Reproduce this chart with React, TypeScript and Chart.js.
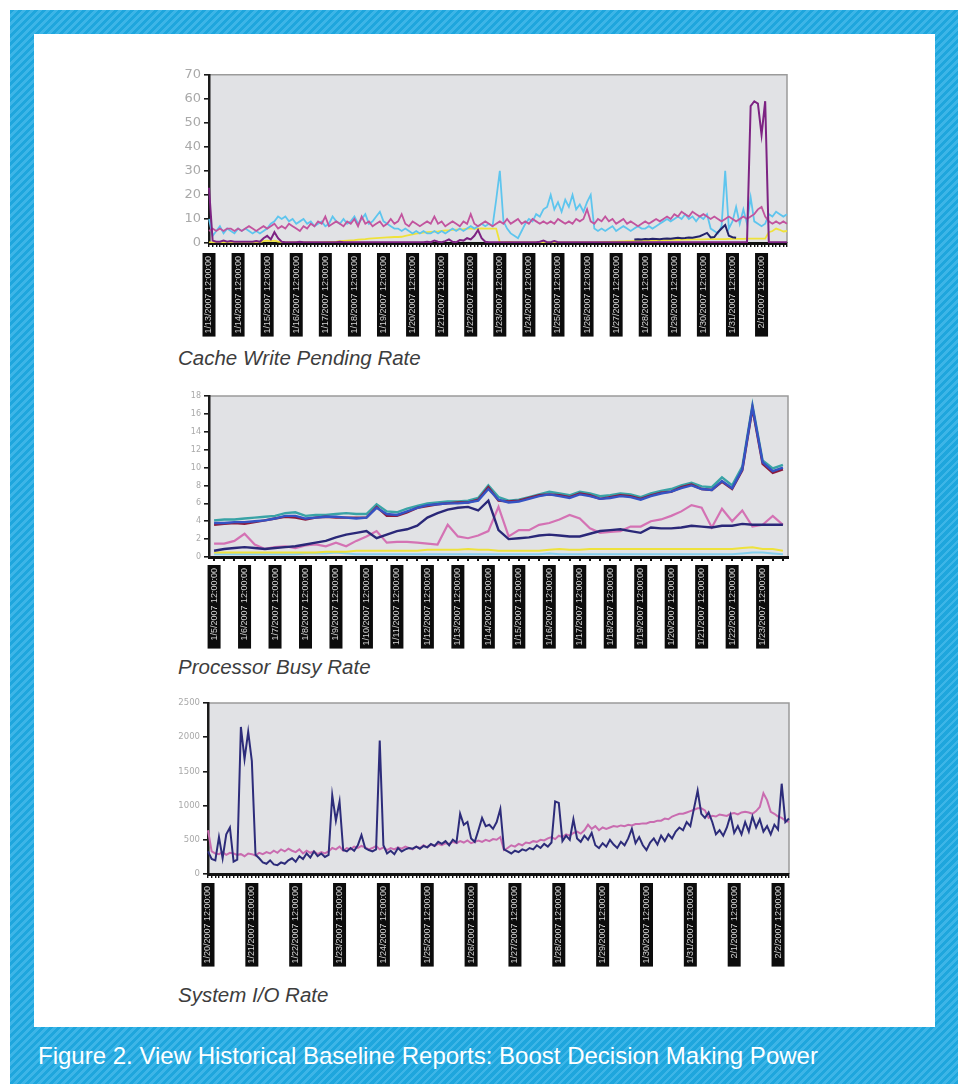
import React, { useEffect, useRef } from "react";
import { Chart, registerables } from "chart.js";

Chart.register(...registerables);

const SANS = '"Liberation Sans", Arial, Helvetica, sans-serif';
const NUM_FONT = '"DejaVu Sans", "Liberation Sans", sans-serif';
const PLOT_BG = "#e1e2e5";

// ---------------- Chart 1: Cache Write Pending Rate ----------------
const CACHE_TICK_LABELS = [
  "1/13/2007 12:00:00", "1/14/2007 12:00:00", "1/15/2007 12:00:00", "1/16/2007 12:00:00",
  "1/17/2007 12:00:00", "1/18/2007 12:00:00", "1/19/2007 12:00:00", "1/20/2007 12:00:00",
  "1/21/2007 12:00:00", "1/22/2007 12:00:00", "1/23/2007 12:00:00", "1/24/2007 12:00:00",
  "1/25/2007 12:00:00", "1/26/2007 12:00:00", "1/27/2007 12:00:00", "1/28/2007 12:00:00",
  "1/29/2007 12:00:00", "1/30/2007 12:00:00", "1/31/2007 12:00:00", "2/1/2007 12:00:00",
];

const CACHE_CYAN = [
  10, 3, 5, 7, 4, 6, 5, 4, 6, 5,
  6, 5, 4, 5, 4, 5, 6, 8, 9, 11,
  10, 11, 9, 10, 8, 9, 10, 8, 9, 7,
  8, 9, 7, 8, 11, 9, 8, 10, 8, 9,
  11, 8, 10, 12, 8, 9, 11, 13, 9, 8,
  7, 6, 6, 5, 6, 5, 4, 5, 4, 5,
  4, 4, 5, 4, 5, 4, 5, 6, 5, 6,
  5, 6, 7, 6, 7, 8, 7, 8, 7, 18,
  30, 9, 6, 4, 3, 2, 5, 8, 10, 9,
  12, 11, 14, 15, 20, 14, 17, 13, 18, 15,
  20, 14, 16, 13, 17, 20, 6, 5, 6, 5,
  6, 7, 5, 6, 7, 6, 5, 6, 7, 6,
  6, 7, 6, 7, 8, 9, 10, 9, 10, 11,
  10, 12, 10, 11, 9, 11, 10, 12, 6, 5,
  4, 7, 30, 6, 9, 15, 8, 14, 8, 19,
  9, 8, 7, 8, 12, 11, 13, 12, 11, 12,
];
const CACHE_PINK = [
  5, 6, 5, 6, 5, 6, 6, 5, 6, 5,
  6, 7, 6, 5, 6, 7, 6, 7, 8, 6,
  7, 6, 8, 7, 6, 5, 7, 6, 8, 7,
  9, 8, 11, 7, 8, 9, 8, 7, 9, 8,
  10, 7, 11, 8, 9, 7, 8, 9, 7, 8,
  10, 8, 9, 12, 8, 7, 9, 8, 7, 8,
  9, 8, 11, 8, 9, 7, 8, 9, 8, 7,
  9, 8, 12, 8, 7, 8, 9, 8, 7, 8,
  9, 8, 10, 8, 9, 10, 8, 9, 8, 10,
  9, 8, 9, 8, 9, 8, 10, 9, 8, 9,
  8, 10, 9, 10, 14, 9, 8, 10, 9, 11,
  9, 10, 8, 9, 10, 8, 9, 8, 7, 8,
  9, 8, 9, 10, 9, 10, 11, 10, 12, 11,
  13, 12, 11, 13, 12, 11, 12, 11, 10, 11,
  10, 9, 10, 11, 10, 9, 10, 11, 10, 11,
  12, 14, 15, 11, 9, 8, 9, 8, 9, 8,
];
const CACHE_YELLOW = [
  0.3, 0.3, 0.3, 0.3, 0.3, 0.3, 0.3, 0.3, 0.3, 0.3,
  0.3, 0.3, 0.3, 0.3, 0.3, 0.8, 1, 0.8, 1, 0.6,
  0.4, 0.3, 0.3, 0.3, 0.3, 0.3, 0.3, 0.3, 0.3, 0.3,
  0.3, 0.3, 0.4, 0.5, 0.5, 0.6, 0.8, 0.9, 1, 1.1,
  1.2, 1.4, 1.5, 1.6, 1.8, 1.9, 2, 2.1, 2.2, 2.3,
  2.4, 2.5, 2.5, 2.6, 3, 3.3, 3.6, 3.9, 4.1, 4.3,
  4.5, 4.6, 4.7, 4.8, 5, 5.2, 5.3, 5.5, 5.6, 5.7,
  5.8, 6, 6, 5.9, 6, 6.1, 6, 6, 6, 6,
  0.3, 0.3, 0.5, 0.5, 0.3, 0.3, 0.3, 0.3, 0.3, 0.3,
  0.3, 0.3, 0.3, 0.4, 0.3, 0.3, 0.3, 0.3, 0.3, 0.3,
  0.3, 0.3, 0.3, 0.3, 0.3, 0.3, 0.3, 0.4, 0.4, 0.5,
  0.5, 0.6, 0.6, 0.7, 0.7, 0.8, 0.8, 0.9, 0.9, 1,
  1, 1, 1.1, 1.1, 1.2, 1.2, 1.2, 1.3, 1.3, 1.3,
  1.4, 1.4, 1.4, 1.5, 1.5, 1.5, 1.5, 1.6, 1.6, 1.6,
  1.6, 1.6, 1.6, 1.7, 1.7, 1.7, 1.7, 1.7, 1.8, 1.8,
  1.8, 1.8, 1.8, 1.8, 4.5, 5, 6, 5.5, 4.8, 5,
];
const CACHE_PURPLE = [
  23, 1, 0.5, 0.5, 1, 0.5, 0.8, 0.5, 0.5, 0.5,
  0.5, 0.5, 0.5, 0.8, 0.5, 2, 3, 1.5, 4.5, 2,
  0.5, 0.3, 0.3, 0.3, 0.3, 0.5, 0.3, 0.3, 0.3, 0.3,
  0.3, 0.3, 0.3, 0.3, 0.3, 0.3, 0.5, 0.3, 0.3, 0.3,
  0.3, 0.3, 0.3, 0.3, 0.3, 0.3, 0.3, 0.3, 0.3, 0.3,
  0.3, 0.3, 0.3, 0.3, 0.3, 0.3, 0.3, 0.3, 0.3, 0.3,
  0.5, 0.3, 1, 0.5, 0.3, 0.8, 1.5, 0.5, 0.3, 1.2,
  1, 2, 1.5, 3, 5.4, 2, 0.5, 0.3, 0.3, 0.3,
  0.3, 0.3, 0.3, 0.3, 0.3, 0.3, 0.3, 0.3, 0.3, 0.3,
  0.3, 0.5, 1, 0.3, 0.3, 0.8, 0.3, 0.3, 0.3, 0.3,
  0.3, 0.3, 0.3, 0.3, 0.3, 0.3, 0.3, 0.3, 0.3, 0.3,
  0.3, 0.3, 0.3, 0.3, 0.3, 0.3, 0.3, 0.3, 0.3, 0.3,
  0.3, 0.3, 0.3, 0.3, 0.3, 0.3, 0.3, 0.3, 0.3, 0.3,
  0.3, 0.3, 0.3, 0.3, 0.3, 0.3, 0.3, 0.3, 0.3, 0.3,
  0.3, 0.3, 0.3, 0.3, 0.3, 0.3, 0.3, 0.3, 0.3, 57,
  59, 58, 45, 59, 0.3, 0.3, 0.3, 0.3, 0.3, 0.3,
];
// navy series only exists over a short stretch (index 117 .. 145)
const CACHE_NAVY_START = 117;
const CACHE_NAVY = [
  1.5, 1.6, 1.5, 1.7, 1.6, 1.8, 1.7, 1.6, 1.8, 1.9,
  1.8, 2.0, 2.2, 2.0, 2.1, 2.3, 2.2, 2.5, 2.8, 3.5,
  4.2, 2.3, 2.5, 4.5, 6.0, 7.5, 3.0, 2.4, 2.2,
];

// ---------------- Chart 2: Processor Busy Rate ----------------
const CPU_TICK_LABELS = [
  "1/5/2007 12:00:00", "1/6/2007 12:00:00", "1/7/2007 12:00:00", "1/8/2007 12:00:00",
  "1/9/2007 12:00:00", "1/10/2007 12:00:00", "1/11/2007 12:00:00", "1/12/2007 12:00:00",
  "1/13/2007 12:00:00", "1/14/2007 12:00:00", "1/15/2007 12:00:00", "1/16/2007 12:00:00",
  "1/17/2007 12:00:00", "1/18/2007 12:00:00", "1/19/2007 12:00:00", "1/20/2007 12:00:00",
  "1/21/2007 12:00:00", "1/22/2007 12:00:00", "1/23/2007 12:00:00",
];
const CPU_BLUE = [
  3.8, 3.8, 3.9, 3.9, 4.0, 4.1, 4.3, 4.6, 4.6, 4.3,
  4.4, 4.5, 4.5, 4.4, 4.3, 4.4, 5.5, 4.8, 4.7, 5.1,
  5.5, 5.8, 5.9, 6.0, 6.0, 6.1, 6.3, 7.6, 6.4, 6.1,
  6.2, 6.5, 6.8, 7.0, 6.8, 6.6, 7.0, 6.8, 6.5, 6.6,
  6.8, 6.7, 6.4, 6.8, 7.1, 7.3, 7.7, 8.0, 7.6, 7.5,
  8.5, 7.7, 9.8, 16.8, 10.6, 9.6, 10.0,
];
const CPU_TEAL = [
  4.1, 4.2, 4.2, 4.3, 4.4, 4.5, 4.6, 4.9, 5.0, 4.6,
  4.7, 4.7, 4.8, 4.9, 4.8, 4.8, 5.9, 5.1, 5.0, 5.4,
  5.7, 6.0, 6.1, 6.2, 6.2, 6.3, 6.6, 8.0, 6.7, 6.3,
  6.4, 6.7, 7.0, 7.3, 7.1, 6.9, 7.3, 7.1, 6.8, 6.9,
  7.1, 7.0, 6.7, 7.1, 7.4, 7.6, 8.0, 8.3, 7.9, 7.8,
  8.9, 8.0, 10.1, 17.0, 10.8, 9.9, 10.3,
];
const CPU_MAROON = [
  3.6, 3.7, 3.8, 3.7, 3.9, 4.1, 4.3, 4.5, 4.4, 4.2,
  4.4, 4.5, 4.4, 4.4, 4.4, 4.4, 5.6, 4.6, 4.6, 5.0,
  5.5, 5.7, 5.9, 6.0, 6.1, 6.1, 6.4, 7.8, 6.3, 6.2,
  6.3, 6.6, 6.9, 7.0, 6.9, 6.7, 7.1, 6.9, 6.5, 6.7,
  6.9, 6.8, 6.5, 6.9, 7.2, 7.3, 7.8, 8.1, 7.6, 7.5,
  8.4, 7.6, 9.7, 16.6, 10.4, 9.4, 9.8,
];
const CPU_NAVY = [
  0.7, 0.9, 1.0, 1.1, 1.0, 0.9, 1.0, 1.1, 1.2, 1.4,
  1.6, 1.8, 2.2, 2.5, 2.7, 2.9, 2.1, 2.5, 2.9, 3.1,
  3.5, 4.4, 4.9, 5.3, 5.5, 5.6, 5.2, 6.3, 3.0, 2.0,
  2.1, 2.2, 2.4, 2.5, 2.4, 2.3, 2.3, 2.6, 2.9, 3.0,
  3.1, 2.9, 2.7, 3.3, 3.2, 3.2, 3.3, 3.5, 3.4, 3.3,
  3.5, 3.5, 3.7, 3.6, 3.6, 3.6, 3.6,
];
const CPU_PINK = [
  1.5, 1.5, 1.8, 2.6, 1.4, 0.9, 1.1, 1.2, 1.0, 1.3,
  1.4, 1.2, 1.6, 1.2, 1.8, 2.3, 2.9, 1.6, 1.7, 1.7,
  1.6, 1.5, 1.4, 3.6, 2.3, 2.1, 2.4, 2.9, 5.6, 2.3,
  3.0, 3.0, 3.6, 3.8, 4.2, 4.7, 4.3, 3.2, 2.7, 2.8,
  2.9, 3.4, 3.4, 4.0, 4.2, 4.6, 5.1, 5.8, 5.5, 3.3,
  5.4, 4.0, 5.2, 3.4, 3.6, 4.6, 3.6,
];
const CPU_YELLOW = [
  0.5, 0.5, 0.5, 0.5, 0.5, 0.5, 0.5, 0.5, 0.5, 0.5,
  0.5, 0.6, 0.6, 0.6, 0.7, 0.7, 0.7, 0.7, 0.7, 0.7,
  0.7, 0.8, 0.8, 0.8, 0.8, 0.9, 0.8, 0.8, 0.7, 0.7,
  0.7, 0.7, 0.7, 0.8, 0.9, 0.8, 0.8, 0.9, 0.9, 0.9,
  0.9, 0.9, 0.9, 0.9, 0.9, 0.9, 0.9, 0.9, 0.9, 0.9,
  0.9, 0.9, 1.0, 1.1, 0.9, 0.9, 0.7,
];
const CPU_LIGHTCYAN = [
  0.3, 0.3, 0.3, 0.3, 0.3, 0.3, 0.3, 0.3, 0.3, 0.4,
  0.4, 0.4, 0.5, 0.4, 0.3, 0.3, 0.3, 0.3, 0.3, 0.3,
  0.3, 0.3, 0.3, 0.3, 0.3, 0.3, 0.3, 0.3, 0.3, 0.3,
  0.3, 0.3, 0.3, 0.4, 0.3, 0.3, 0.3, 0.3, 0.3, 0.3,
  0.3, 0.3, 0.3, 0.3, 0.3, 0.3, 0.3, 0.3, 0.3, 0.3,
  0.3, 0.3, 0.4, 0.5, 0.5, 0.4, 0.3,
];

// ---------------- Chart 3: System I/O Rate ----------------
const IO_TICK_LABELS = [
  "1/20/2007 12:00:00", "1/21/2007 12:00:00", "1/22/2007 12:00:00", "1/23/2007 12:00:00",
  "1/24/2007 12:00:00", "1/25/2007 12:00:00", "1/26/2007 12:00:00", "1/27/2007 12:00:00",
  "1/28/2007 12:00:00", "1/29/2007 12:00:00", "1/30/2007 12:00:00", "1/31/2007 12:00:00",
  "2/1/2007 12:00:00", "2/2/2007 12:00:00",
];
const IO_NAVY = [
  330, 220, 200, 540, 230, 580, 680, 180, 210, 2150,
  1680, 2080, 1650, 280, 230, 170, 150, 200, 140, 130,
  170, 150, 200, 230, 180, 260, 220, 300, 240, 330,
  260, 300, 250, 280, 1150, 780, 1060, 350, 330, 380,
  340, 420, 570, 380, 350, 330, 360, 1950, 420, 300,
  340, 290, 380, 330, 360, 380, 370, 400, 370, 410,
  390, 440, 410, 470, 440, 480, 420, 500, 460, 880,
  720, 760, 520, 470, 640, 820, 700, 720, 660, 760,
  950, 360, 330, 300, 340, 320, 360, 340, 380, 360,
  420, 380, 440, 400, 460, 1060, 1040, 480, 560, 500,
  800, 520, 470, 560, 500, 600, 420, 380, 450, 400,
  500, 430, 380, 470, 420, 520, 660, 450, 540, 420,
  350, 460, 520, 430, 560, 480, 580, 520, 620, 680,
  640, 760, 700, 960, 1220, 880, 820, 900, 760, 580,
  640, 560, 680, 860, 600, 700, 580, 760, 620, 840,
  680, 800, 620, 700, 580, 720, 650, 1320, 760, 810,
];
const IO_PINK = [
  640, 330, 300, 290, 320, 280, 310, 300, 280, 290,
  260, 300, 290, 270, 310, 290, 320, 300, 340, 310,
  360, 330, 370, 340, 320, 360, 300, 340, 310, 330,
  290, 320, 300, 330, 380, 360, 400, 340, 380, 360,
  400, 380, 410, 390, 360, 380, 410, 360, 390, 350,
  380, 360, 390, 370, 400, 380, 360, 400, 380, 420,
  390, 430, 410, 440, 420, 450, 440, 470, 450, 480,
  460, 490, 450, 470, 490, 470, 500, 480, 510, 500,
  540, 350, 380, 420, 400, 440, 420, 460, 450, 480,
  470, 500, 490, 520, 540, 510, 560, 540, 580, 560,
  600, 620, 590, 640, 720, 660, 700, 640, 680, 660,
  680, 700, 690, 710, 700, 720, 710, 730, 730, 740,
  740, 760, 760, 780, 780, 810, 800, 840, 860, 880,
  880, 900, 920, 940, 960, 960, 930, 820, 850, 840,
  870, 860, 850, 880, 890, 870, 900, 910, 900, 880,
  920, 980, 1180, 1080, 910, 880, 840, 820, 780, 760,
];

// ---------------- chart building ----------------
type Series = { data: (number | null)[]; color: string; width: number };
type Spec = {
  key: string;
  left: number;
  top: number;
  width: number;
  height: number;
  n: number;
  every: number;
  tickLabels: string[];
  yMax: number;
  yStep: number;
  yFont: number;
  yAxisW: number;
  xAxisH: number;
  padTop: number;
  padRight: number;
  tickPad: number;
  offset: boolean;
  xTickWidth: number;
  series: Series[];
};

const BOX_W = 13;
const BOX_PAD = 3;
const XLABEL_FONT = 9;

function withGap(start: number, values: number[], n: number): (number | null)[] {
  const out: (number | null)[] = new Array(n).fill(null);
  values.forEach((v, k) => {
    out[start + k] = v;
  });
  return out;
}

const SPECS: Spec[] = [
  {
    key: "cache",
    left: 170, top: 64, width: 625, height: 279,
    n: 160, every: 8, tickLabels: CACHE_TICK_LABELS,
    yMax: 70, yStep: 10, yFont: 13, yAxisW: 39, xAxisH: 100,
    padTop: 10, padRight: 8, tickPad: 9, offset: false, xTickWidth: 1.4,
    series: [
      { data: CACHE_PURPLE, color: "#7d2383", width: 2 },
      { data: withGap(CACHE_NAVY_START, CACHE_NAVY, 160), color: "#23236a", width: 2 },
      { data: CACHE_PINK, color: "#c2549e", width: 1.8 },
      { data: CACHE_CYAN, color: "#5ec5ee", width: 1.8 },
      { data: CACHE_YELLOW, color: "#efe23a", width: 1.8 },
    ],
  },
  {
    key: "cpu",
    left: 170, top: 386, width: 626, height: 266,
    n: 57, every: 3, tickLabels: CPU_TICK_LABELS,
    yMax: 18, yStep: 2, yFont: 8, yAxisW: 39, xAxisH: 95,
    padTop: 10, padRight: 8, tickPad: 7, offset: true, xTickWidth: 2,
    series: [
      { data: CPU_BLUE, color: "#3553c4", width: 2.4 },
      { data: CPU_MAROON, color: "#8c1a3c", width: 2.4 },
      { data: CPU_TEAL, color: "#39a3a6", width: 2.4 },
      { data: CPU_NAVY, color: "#2a2878", width: 2.4 },
      { data: CPU_PINK, color: "#d472b4", width: 2.2 },
      { data: CPU_YELLOW, color: "#eee23c", width: 2 },
      { data: CPU_LIGHTCYAN, color: "#86d0ef", width: 2 },
    ],
  },
  {
    key: "io",
    left: 165, top: 693, width: 632, height: 281,
    n: 160, every: 12, tickLabels: IO_TICK_LABELS,
    yMax: 2500, yStep: 500, yFont: 8.5, yAxisW: 43, xAxisH: 100,
    padTop: 10, padRight: 8, tickPad: 8, offset: false, xTickWidth: 1.4,
    series: [
      { data: IO_NAVY, color: "#2d2c7a", width: 2 },
      { data: IO_PINK, color: "#c96cb0", width: 2 },
    ],
  },
];

function buildConfig(spec: Spec): any {
  const categories = Array.from({ length: spec.n }, (_, i) => i);
  const framePlugin = {
    id: "frame-" + spec.key,
    beforeDraw(chart: any) {
      const { ctx, chartArea: a, scales } = chart;
      ctx.save();
      ctx.fillStyle = PLOT_BG;
      ctx.fillRect(a.left, a.top, a.right - a.left, a.bottom - a.top);
      ctx.strokeStyle = "#9b9b9b";
      ctx.lineWidth = 1.5;
      ctx.beginPath();
      ctx.moveTo(a.left, a.top);
      ctx.lineTo(a.right, a.top);
      ctx.lineTo(a.right, a.bottom);
      ctx.stroke();
      // black strips (all the same length) behind the rotated date labels
      const xs = scales.x;
      const y0 = xs.top + xs.options.grid.tickLength + xs.options.ticks.padding;
      ctx.font = `${XLABEL_FONT}px ${SANS}`;
      let maxW = 0;
      xs.ticks.forEach((t: any) => {
        if (t.label) maxW = Math.max(maxW, ctx.measureText(String(t.label)).width);
      });
      ctx.fillStyle = "#0c0c0c";
      xs.ticks.forEach((t: any, i: number) => {
        if (!t.label) return;
        const px = xs.getPixelForTick(i);
        ctx.fillRect(px - BOX_W / 2, y0 - BOX_PAD, BOX_W, maxW + BOX_PAD * 2);
      });
      ctx.restore();
    },
  };

  return {
    type: "line",
    data: {
      labels: categories,
      datasets: spec.series.map((s) => ({
        data: s.data,
        borderColor: s.color,
        backgroundColor: s.color,
        borderWidth: s.width,
        pointRadius: 0,
        tension: 0,
        fill: false,
        spanGaps: false,
      })),
    },
    options: {
      animation: false,
      responsive: false,
      events: [],
      layout: { padding: { top: spec.padTop, right: spec.padRight, left: 0, bottom: 0 } },
      plugins: { legend: { display: false }, tooltip: { enabled: false } },
      scales: {
        x: {
          type: "category",
          offset: spec.offset,
          grid: {
            display: true,
            drawOnChartArea: false,
            drawTicks: true,
            tickLength: 4,
            color: "#111111",
            lineWidth: spec.xTickWidth,
            offset: false,
          },
          border: { display: true, color: "#111111", width: 3 },
          ticks: {
            autoSkip: false,
            minRotation: 90,
            maxRotation: 90,
            padding: spec.tickPad,
            color: "#d4d4d4",
            font: { family: SANS, size: XLABEL_FONT },
            callback: (_v: any, i: number) =>
              i % spec.every === 0 && spec.tickLabels[i / spec.every] !== undefined
                ? spec.tickLabels[i / spec.every]
                : "",
          },
          afterFit: (scale: any) => {
            scale.height = spec.xAxisH;
            scale.paddingLeft = 0;
            scale.paddingRight = 0;
          },
        },
        y: {
          min: 0,
          max: spec.yMax,
          grid: {
            display: true,
            drawOnChartArea: false,
            drawTicks: true,
            tickLength: 5,
            color: "#1a1a1a",
            lineWidth: 1.6,
          },
          border: { display: true, color: "#1a1a1a", width: 2.5 },
          ticks: {
            stepSize: spec.yStep,
            padding: 3,
            color: "#a9a9a9",
            font: { family: NUM_FONT, size: spec.yFont },
            callback: (v: any) => String(v),
          },
          afterFit: (scale: any) => {
            scale.width = spec.yAxisW;
          },
        },
      },
    },
    plugins: [framePlugin],
  };
}

function ChartBox({ spec }: { spec: Spec }) {
  const ref = useRef<HTMLCanvasElement | null>(null);
  useEffect(() => {
    if (!ref.current) return;
    const chart = new Chart(ref.current, buildConfig(spec));
    return () => chart.destroy();
  }, [spec]);
  return (
    <canvas
      ref={ref}
      width={spec.width}
      height={spec.height}
      style={{ position: "absolute", left: spec.left, top: spec.top, width: spec.width, height: spec.height }}
    />
  );
}

const CAPTIONS = [
  { text: "Cache Write Pending Rate", top: 346 },
  { text: "Processor Busy Rate", top: 655 },
  { text: "System I/O Rate", top: 983 },
];
const FIGURE_TITLE = "Figure 2. View Historical Baseline Reports: Boost Decision Making Power";

export default function App() {
  return (
    <div
      style={{
        position: "absolute",
        left: 0,
        top: 0,
        width: 961,
        height: 1084,
        overflow: "hidden",
        background: "#ffffff",
      }}
    >
      <div
        style={{
          position: "absolute",
          left: 10,
          top: 10,
          width: 948,
          height: 1080,
          background:
            "repeating-linear-gradient(135deg, #1ea6dd 0px, #1ea6dd 3px, #3db5e7 3px, #3db5e7 5.66px)",
        }}
      />
      <div style={{ position: "absolute", left: 34, top: 34, width: 901, height: 993, background: "#ffffff" }} />
      {SPECS.map((s) => (
        <ChartBox key={s.key} spec={s} />
      ))}
      {CAPTIONS.map((c) => (
        <div
          key={c.text}
          style={{
            position: "absolute",
            left: 178,
            top: c.top,
            fontFamily: SANS,
            fontStyle: "italic",
            fontSize: 20.5,
            lineHeight: "24px",
            color: "#3d3d3d",
            whiteSpace: "nowrap",
          }}
        >
          {c.text}
        </div>
      ))}
      <div
        style={{
          position: "absolute",
          left: 38,
          top: 1042,
          fontFamily: SANS,
          fontSize: 24,
          lineHeight: "28px",
          color: "#ffffff",
          whiteSpace: "nowrap",
        }}
      >
        {FIGURE_TITLE}
      </div>
    </div>
  );
}
